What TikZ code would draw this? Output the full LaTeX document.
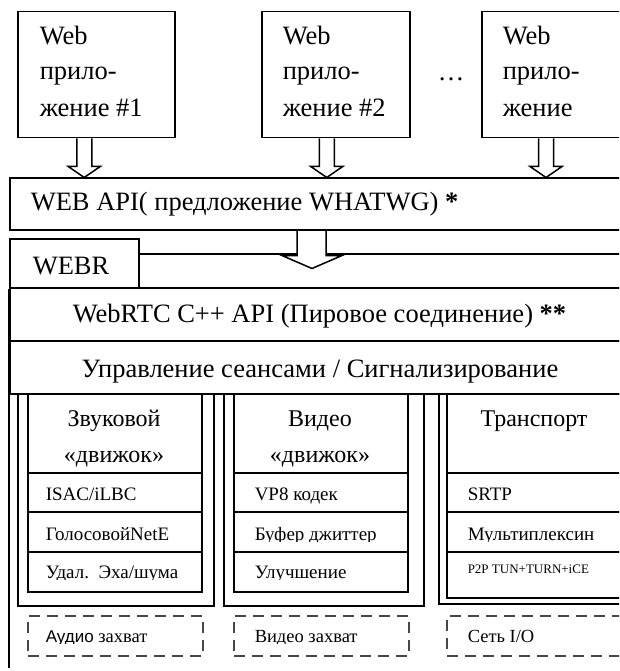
\documentclass[tikz,border=0pt]{standalone}
\usepackage{fontspec}
\setmainfont{Liberation Serif}
\newfontfamily\capsans{Liberation Sans}
\tikzset{
  frame/.style={draw, line width=1.5pt, inner sep=0pt, anchor=north west},
  big/.style={font=\fontsize{26.5}{30}\selectfont, inner sep=0pt},
  title/.style={font=\fontsize{24}{28}\selectfont, inner sep=0pt, anchor=base},
  small/.style={font=\fontsize{19}{22}\selectfont, inner sep=0pt, anchor=base west},
  capt/.style={font=\fontsize{18.5}{22}\selectfont, inner sep=0pt, anchor=base west},
  tiny/.style={font=\fontsize{13}{15}\selectfont, inner sep=0pt, anchor=base west},
  dashbox/.style={draw=black!72, line width=2pt, dash pattern=on 11pt off 7pt, inner sep=0pt, anchor=north west},
  downarrow/.pic={\draw (-7.5,0) -- (-7.5,28) -- (-16,28) -- (0,39) -- (16,28) -- (7.5,28) -- (7.5,0);}
}
\begin{document}
\begin{tikzpicture}[x=1pt, y=-1pt, line width=1.5pt]
\useasboundingbox (0,0) rectangle (619,671);
\clip (0,0) rectangle (619,671);

% web applications
\node[frame, minimum width=157pt, minimum height=126pt] (app1) at (17,11) {};
\node[frame, minimum width=148pt, minimum height=126pt] (app2) at (261,11) {};
\node[frame, minimum width=170pt, minimum height=126pt] (app3) at (481,11) {};
\node[big, anchor=base west] (app1a) at (39,45) {Web};
\node[big, anchor=base west] (app1b) at (39,80) {прило-};
\node[big, anchor=base west] (app1c) at (39,117) {жение \#1};
\node[big, anchor=base west] (app2a) at (282,45) {Web};
\node[big, anchor=base west] (app2b) at (282,80) {прило-};
\node[big, anchor=base west] (app2c) at (282,117) {жение \#2};
\node[big, anchor=base west] (app3a) at (502,45) {Web};
\node[big, anchor=base west] (app3b) at (502,80) {прило-};
\node[big, anchor=base west] (app3c) at (502,117) {жение};
\node[big, anchor=base west] (dots) at (437,81) {…};

% arrows into the Web API
\pic at ([xshift=-12pt]app1.south) {downarrow};
\pic at ([xshift=-9pt]app2.south) {downarrow};
\pic at ([xshift=65pt]app3.south west) {downarrow};

% Web API layer
\node[frame, minimum width=640pt, minimum height=52pt] (webapi) at (9,177) {};
\node[big, anchor=base west] (webapit) at (30,210) {WEB API( предложение WHATWG) {\bfseries *}};

% WebRTC container with its tab
\node[frame, minimum width=129pt, minimum height=49pt] (webr) at (9,238) {};
\node[big, anchor=base west] (webrt) at (32,274) {WEBR};
\draw (webr.east |- 0,254) -- (297,254);
\draw (326,254) -- (640,254);
\draw (webr.south west) -- (9,668);
\draw ([xshift=288pt]webapi.south west) -- ++(0,25) -- ++(-15,0) -- ++(30,13)
      -- ++(30,-13) -- ++(-16,0) -- ++(0,-25);

% horizontal layers
\node[frame, minimum width=631pt, minimum height=53pt] (rtcapi) at (9,287) {};
\node[big, anchor=base] (rtcapit) at (319.5,322) {WebRTC C++ API (Пировое соединение) {\bfseries **}};
\node[frame, minimum width=631pt, minimum height=53pt] (sess) at (9,340) {};
\node[big, anchor=base] (sesst) at (320,377) {Управление сеансами / Сигнализирование};

% engines
\node[frame, minimum width=196pt, minimum height=212pt] (c1o) at (17,393) {};
\node[frame, minimum width=174pt, minimum height=198pt] (c1i) at (27,393) {};
\node[frame, minimum width=200pt, minimum height=212pt] (c2o) at (223,393) {};
\node[frame, minimum width=174pt, minimum height=198pt] (c2i) at (233,393) {};
\node[frame, minimum width=192pt, minimum height=210pt] (c3o) at (438,393) {};
\node[frame, minimum width=174pt, minimum height=204pt] (c3i) at (446,393) {};
\foreach \c in {c1i,c2i,c3i}
  \foreach \yy in {473,512,552}
    \draw (\c.west |- 0,\yy) -- (\c.east |- 0,\yy);

\node[title] (t1a) at (114,426) {Звуковой};
\node[title] (t1b) at (114,462) {«движок»};
\node[title] (t2a) at (320,426) {Видео};
\node[title] (t2b) at (320,462) {«движок»};
\node[title] (t3a) at (534,426) {Транспорт};

\node[small] (r11) at (45,500) {ISAC/iLBC};
\node[small] (r21) at (254,500) {VP8 кодек};
\node[small] (r31) at (467,500) {SRTP};
\begin{scope}
  \clip (0,513) rectangle (640,541.5);
  \node[small] (r12) at (45,540) {ГолосовойNetE};
  \node[small] (r22) at (254,540) {Буфер джиттер};
  \node[small] (r32) at (467,540) {Мультиплексин};
\end{scope}
\begin{scope}
  \clip (0,553) rectangle (640,579.5);
  \node[small] (r13) at (45,578) {Удал.\ \ Эха/шума};
  \node[small] (r23) at (254,578) {Улучшение};
\end{scope}
\node[tiny] (r33) at (467,573) {P2P TUN+TURN+iCE};

% capture devices
\node[dashbox, minimum width=175pt, minimum height=40pt] (cap1) at (27,615) {};
\node[dashbox, minimum width=175pt, minimum height=40pt] (cap2) at (233,615) {};
\node[dashbox, minimum width=194pt, minimum height=40pt] (cap3) at (446,615) {};
\begin{scope}
  \clip (0,617) rectangle (640,643.5);
  \node[capt] (cap1t) at (45,642) {{\capsans\fontsize{17}{20}\selectfont Аудио} захват};
  \node[capt] (cap2t) at (254,642) {Видео захват};
  \node[capt] (cap3t) at (467,642) {Сеть I/O};
\end{scope}
\end{tikzpicture}
\end{document}
